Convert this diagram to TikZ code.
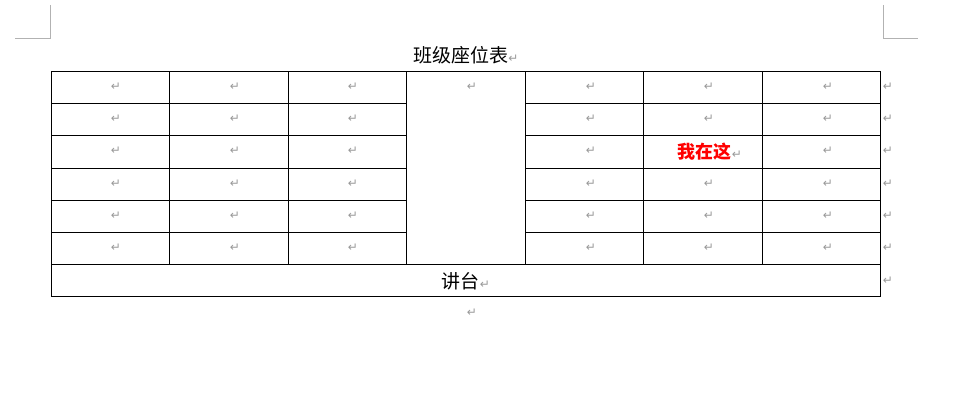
\documentclass[tikz,border=0pt]{standalone}
\usepackage{fontspec}
\newfontfamily\cjk{Noto Sans CJK SC}
\newfontfamily\dv{DejaVu Sans}
\begin{document}
\begin{tikzpicture}[x=1pt,y=-1pt,
  ret/.style={text=gray!80,font=\dv\fontsize{12}{12}\selectfont,inner sep=0},
  grid/.style={draw=black,line width=0.7pt},
  corner/.style={draw=gray!60,line width=0.6pt}]
\useasboundingbox (0,0) rectangle (973,412);
\def\R{\textcolor{gray!80}{\dv\fontsize{12}{12}\selectfont ↵}}
% corner marks
\draw[corner] (50,5) -- (50,38) -- (15,38);
\draw[corner] (883,5) -- (883,38) -- (918,38);
% table
\draw[grid] (51,71) rectangle (880,296);
\foreach \y in {103,135,168,200,232}{
  \draw[grid] (51,\y) -- (406,\y);
  \draw[grid] (525,\y) -- (880,\y);}
\draw[grid] (51,264) -- (880,264);
\foreach \x in {169,288,406,525,643,762}{\draw[grid] (\x,71) -- (\x,264);}
% marks
\foreach \x in {116,235,353,472,591,709,828}{
  \node[ret] (m\x) at (\x,87) {↵};}
\foreach \y in {119,151,184,216,248}{
  \foreach \x in {116,235,353,591,709,828}{
    \ifnum\x=709 \ifnum\y=151 \else \node[ret] at (\x,\y) {↵};\fi
    \else \node[ret] at (\x,\y) {↵};\fi}}
\foreach \y in {87,119,151,184,216,248,281}{\node[ret] at (888,\y) {↵};}
\node[ret] (b) at (472,313) {↵};
\node[inner sep=0] (title) at (466,55) {\cjk\fontsize{19}{19}\selectfont 班级座位表\R};
\node[inner sep=0] (jt) at (466,281) {\cjk\fontsize{19}{19}\selectfont 讲台\R};
\node[inner sep=0] (me) at (710,152) {\textcolor{red}{\cjk\bfseries\fontsize{18}{18}\selectfont 我在这}\R};
\end{tikzpicture}
\end{document}
